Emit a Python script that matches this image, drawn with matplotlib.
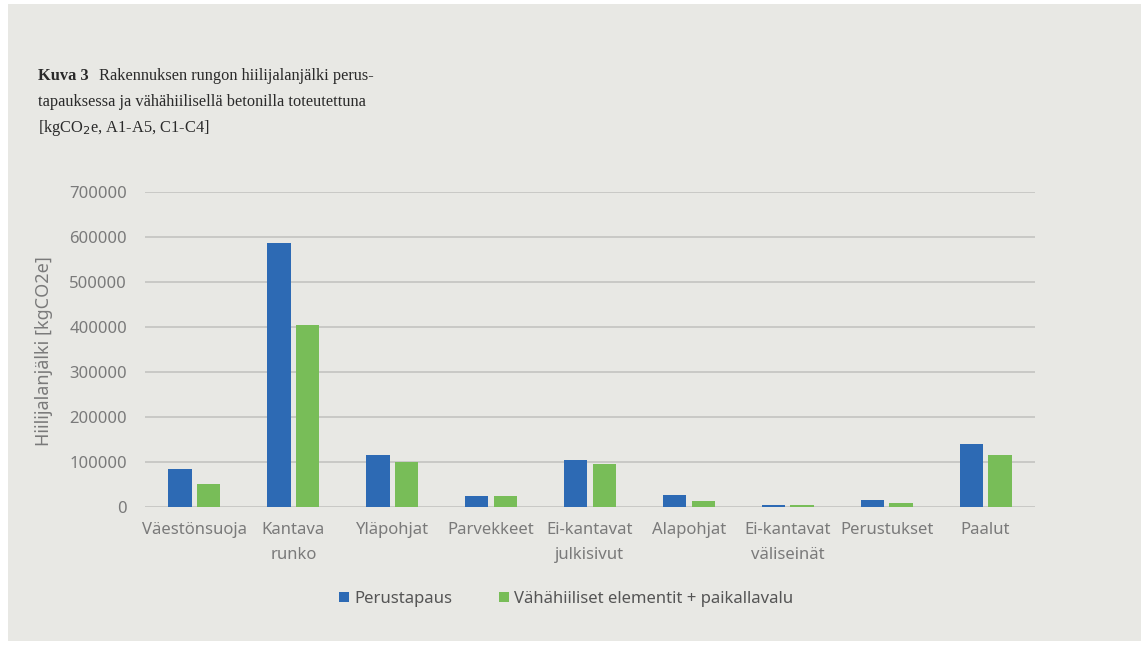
import numpy as np
import matplotlib.pyplot as plt
from matplotlib.patches import Rectangle

# data
categories = ['Väestönsuoja', 'Kantava\nrunko', 'Yläpohjat', 'Parvekkeet', 'Ei-kantavat\njulkisivut',
              'Alapohjat', 'Ei-kantavat\nväliseinät', 'Perustukset', 'Paalut']
perustapaus = [84000, 587000, 116000, 25000, 105000, 26000, 5000, 16000, 141000]
vahahiiliset = [51000, 404000, 101000, 25000, 96000, 13000, 4000, 10000, 116000]
series_names = ['Perustapaus', 'Vähähiiliset elementit + paikallavalu']
yticks = [0, 100000, 200000, 300000, 400000, 500000, 600000, 700000]

bg = '#e8e8e4'
blue = '#2d6ab4'
green = '#78bd58'
gray_txt = '#7a7a7a'

W, H = 1141, 645
fig = plt.figure(figsize=(W / 100, H / 100), dpi=100)
fig.patch.set_facecolor('white')
# gray panel
fig.patches.append(Rectangle((8 / W, 4 / H), 1 - 8 / W, 1 - 8 / H, transform=fig.transFigure,
                             facecolor=bg, edgecolor='none', zorder=-10))

ax = fig.add_axes([145 / W, 1 - 507 / H, 890 / W, 315 / H])
ax.set_facecolor('none')

x = np.arange(len(categories))
w = 0.235
ax.bar(x - 0.145, perustapaus, w, color=blue, label=series_names[0], zorder=3)
ax.bar(x + 0.145, vahahiiliset, w, color=green, label=series_names[1], zorder=3)

ax.set_xlim(-0.5, len(categories) - 0.5)
ax.set_ylim(0, 700000)
ax.set_yticks(yticks)
ax.set_yticklabels([str(v) for v in yticks])
ax.set_xticks(x)
ax.set_xticklabels(categories, linespacing=1.7)
ax.grid(axis='y', color='#c9c9c6', linewidth=1.4, zorder=0)
for s in ax.spines.values():
    s.set_visible(False)
ax.tick_params(length=0, colors=gray_txt, labelsize=12, pad=11)
ax.tick_params(axis='y', pad=13)
for lbl in ax.get_xticklabels() + ax.get_yticklabels():
    lbl.set_family('Noto Sans')
    lbl.set_color(gray_txt)

ax.set_ylabel('Hiilijalanjälki [kgCO2e]', fontsize=13, color=gray_txt, family='Noto Sans', labelpad=8)
ax.yaxis.set_label_coords(-92 / 890, 0.495)

leg = fig.legend(loc='center', bbox_to_anchor=(566 / W, 1 - 599 / H), ncol=2, frameon=False,
                 prop={'family': 'Noto Sans', 'size': 12}, handlelength=0.6, handleheight=0.6,
                 handletextpad=0.3, columnspacing=2.8)
for t in leg.get_texts():
    t.set_color('#555555')

# caption
cap = dict(family='Liberation Serif', fontsize=11.8, color='#2a2a2a', va='center')
fig.text(38 / W, 1 - 76 / H, 'Kuva 3', weight='bold', **cap)
fig.text(99 / W, 1 - 76 / H, 'Rakennuksen rungon hiilijalanjälki perus-', **cap)
fig.text(38 / W, 1 - 102 / H, 'tapauksessa ja vähähiilisellä betonilla toteutettuna', **cap)
fig.text(38 / W, 1 - 128 / H, r'[kgCO$_2$e, A1-A5, C1-C4]', **cap)

fig.savefig('out.png', dpi=100, facecolor=fig.get_facecolor())
